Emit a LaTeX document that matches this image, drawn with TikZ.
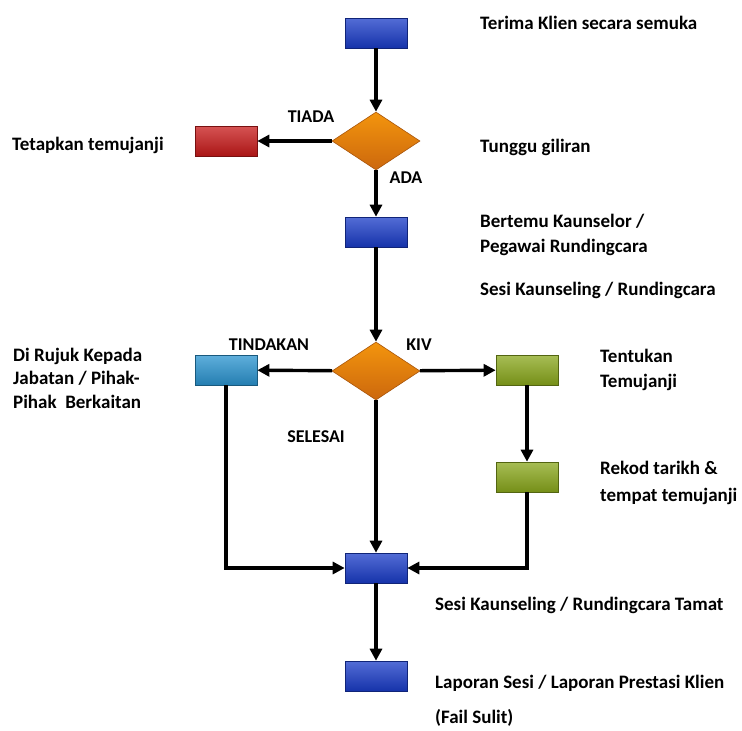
\documentclass[tikz,border=0pt]{standalone}
\usepackage{fontspec}
\setmainfont{Carlito}
\usetikzlibrary{arrows.meta,shapes.geometric,positioning}
\definecolor{boxblue}{HTML}{1A3CC8}
\definecolor{boxred}{HTML}{C81A1A}
\definecolor{boxcyan}{HTML}{2A94D0}
\definecolor{boxgreen}{HTML}{8AA81C}
\definecolor{dorange}{HTML}{F07A10}
\tikzset{
  box/.style={rectangle, minimum width=62pt, minimum height=30pt, inner sep=0pt, line width=0.6pt,
    draw=#1!60!black, top color=#1!75!white, bottom color=#1!85!black},
  dec/.style={diamond, minimum width=88pt, minimum height=58pt, inner sep=0pt, line width=0.6pt,
    draw=dorange!70!black, top color=dorange!80!yellow, bottom color=dorange!85!black},
  lab/.style={anchor=west, align=left, inner sep=0pt, font=\fontsize{19}{25}\selectfont\bfseries},
  tag/.style={inner sep=0pt, font=\fontsize{18}{22}\selectfont\bfseries},
  flow/.style={line width=3.4pt, -{Triangle[length=12pt,width=12pt]}}
}
\begin{document}
\begin{tikzpicture}[x=1pt,y=-1pt]
\useasboundingbox (0,0) rectangle (742,731);
\node[box=boxblue]  (t1) at (376,33)  {};
\node[dec]          (d1) at (376,141) {};
\node[box=boxred]   (r1) at (226,141) {};
\node[box=boxblue]  (b2) at (376,232) {};
\node[dec]          (d2) at (376,371) {};
\node[box=boxcyan]  (c1) at (226,370) {};
\node[box=boxgreen] (g1) at (527,370) {};
\node[box=boxgreen] (g2) at (527,477) {};
\node[box=boxblue]  (b3) at (376,568) {};
\node[box=boxblue]  (b4) at (376,676) {};

\draw[flow] (t1) -- (d1);
\draw[flow] (d1) -- (r1);
\draw[flow] (d1) -- (b2);
\draw[flow] (b2) -- (d2);
\draw[flow] (d2) -- (c1);
\draw[flow] (d2) -- (g1);
\draw[flow] (g1) -- (g2);
\draw[flow] (d2) -- (b3);
\draw[flow] (c1.south) |- (b3.west);
\draw[flow] (g2.south) |- (b3.east);
\draw[flow] (b3) -- (b4);

\node[tag] (tiada) at (311,117) {TIADA};
\node[tag] (ada) at (406,178) {ADA};
\node[tag] (tindakan) at (269,345) {TINDAKAN};
\node[tag] (kiv) at (419,345) {KIV};
\node[tag] (selesai) at (316,437) {SELESAI};

\node[lab] (l1) at (480,23)  {Terima Klien secara semuka};
\node[lab] (l2) at (12,145)  {Tetapkan temujanji};
\node[lab] (l3) at (480,147) {Tunggu giliran};
\node[lab] (l4) at (480,235) {Bertemu Kaunselor /\\Pegawai Rundingcara};
\node[lab] (l5) at (480,290) {Sesi Kaunseling / Rundingcara};
\node[lab, font=\fontsize{19}{23.5}\selectfont\bfseries] (l6) at (13,378) {Di Rujuk Kepada\\Jabatan / Pihak-\\Pihak~ Berkaitan};
\node[lab] (l7) at (600,370) {Tentukan\\Temujanji};
\node[lab, font=\fontsize{19}{27}\selectfont\bfseries] (l8) at (600,483) {Rekod tarikh \&\\tempat temujanji};
\node[lab] (l9) at (435,605) {Sesi Kaunseling / Rundingcara Tamat};
\node[lab] (l10) at (435,683) {Laporan Sesi / Laporan Prestasi Klien};
\node[lab] (l11) at (435,718) {(Fail Sulit)};
\end{tikzpicture}
\end{document}
